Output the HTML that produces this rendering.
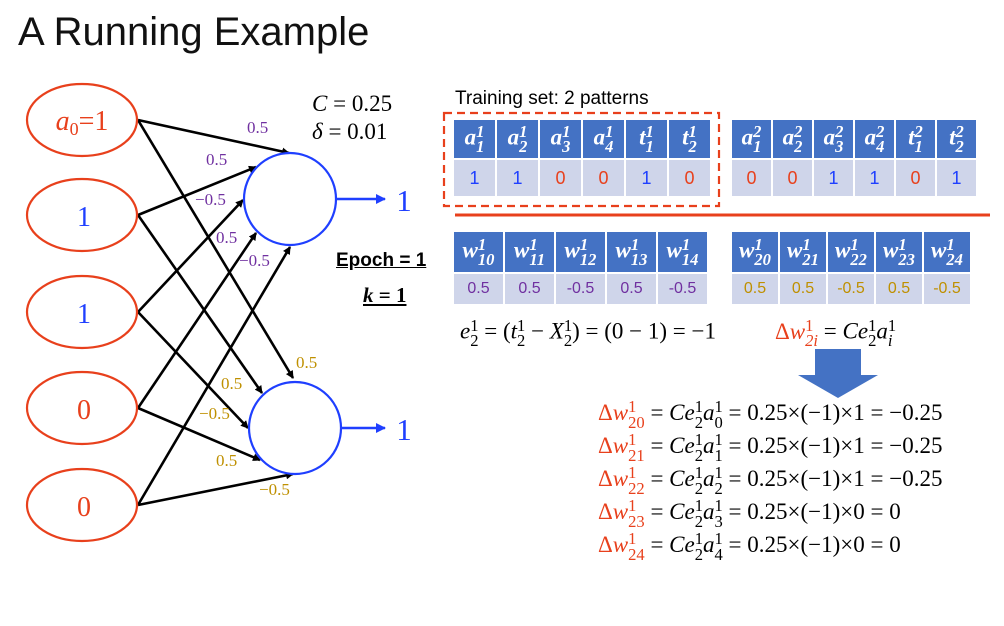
<!DOCTYPE html>
<html><head><meta charset="utf-8">
<style>
body{margin:0;background:#fff;}
#root{position:relative;width:1004px;height:626px;overflow:hidden;font-family:"Liberation Sans",sans-serif;}
.abs{position:absolute;white-space:nowrap;}
.m{font-family:"Liberation Serif",serif;}
.i{font-style:italic;}
.ss{display:inline-flex;flex-direction:column;font-size:72%;line-height:0.92;vertical-align:middle;text-align:left;}
table{border-collapse:separate;border-spacing:2px;position:absolute;}
td{padding:0;text-align:center;}
.h td{background:#4472c4;color:#fff;font-family:"Liberation Serif",serif;font-weight:bold;font-style:italic;font-size:23px;}
.v td{background:#cfd5ea;font-size:18px;}
.bl{color:#1f3fff}.rd{color:#e8401c}.pu{color:#7030a0}.go{color:#bf9000}
.eq{font-family:"Liberation Serif",serif;font-size:23px;color:#000;}
</style></head><body>
<div id="root">
<div class="abs" style="left:18px;top:10px;font-size:40px;color:#111;">A Running Example</div>

<svg class="abs" style="left:0;top:0" width="1004" height="626">
<defs><marker id="ah" markerWidth="8" markerHeight="8" refX="7" refY="4" orient="auto" markerUnits="userSpaceOnUse"><path d="M0,0L8,4L0,8z" fill="#000"/></marker>
<marker id="bh" markerWidth="10" markerHeight="10" refX="9" refY="5" orient="auto" markerUnits="userSpaceOnUse"><path d="M0,0L10,5L0,10z" fill="#1f3fff"/></marker></defs>
<g stroke="#000" stroke-width="2.6" marker-end="url(#ah)">
<line x1="138" y1="120" x2="289" y2="153"/>
<line x1="138" y1="215" x2="256" y2="167"/>
<line x1="138" y1="312" x2="243" y2="200"/>
<line x1="138" y1="408" x2="256" y2="233"/>
<line x1="138" y1="505" x2="290" y2="247"/>
<line x1="138" y1="120" x2="293" y2="378"/>
<line x1="138" y1="215" x2="262" y2="393"/>
<line x1="138" y1="312" x2="248" y2="428"/>
<line x1="138" y1="408" x2="260" y2="460"/>
<line x1="138" y1="505" x2="293" y2="474"/>
</g>
<g fill="#fff" stroke="#e8401c" stroke-width="2.2">
<ellipse cx="82" cy="120" rx="55" ry="36"/>
<ellipse cx="82" cy="215" rx="55" ry="36"/>
<ellipse cx="82" cy="312" rx="55" ry="36"/>
<ellipse cx="82" cy="408" rx="55" ry="36"/>
<ellipse cx="82" cy="505" rx="55" ry="36"/>
</g>
<circle cx="290" cy="199" r="46" fill="#fff" stroke="#1f3fff" stroke-width="2.2"/>
<circle cx="295" cy="428" r="46" fill="#fff" stroke="#1f3fff" stroke-width="2.2"/>
<line x1="336" y1="199" x2="385" y2="199" stroke="#1f3fff" stroke-width="2.6" marker-end="url(#bh)"/>
<line x1="341" y1="428" x2="385" y2="428" stroke="#1f3fff" stroke-width="2.6" marker-end="url(#bh)"/>
<g font-family="Liberation Serif,serif" font-size="28" text-anchor="middle">
<text x="82" y="130" fill="#e8401c"><tspan font-style="italic">a</tspan><tspan font-size="18" dy="5">0</tspan><tspan dy="-5">=1</tspan></text>
<text x="84" y="226" fill="#1f3fff">1</text>
<text x="84" y="323" fill="#1f3fff">1</text>
<text x="84" y="419" fill="#e8401c">0</text>
<text x="84" y="516" fill="#e8401c">0</text>
<text x="404" y="211" fill="#1f3fff" font-size="31">1</text>
<text x="404" y="440" fill="#1f3fff" font-size="31">1</text>
</g>
<g font-family="Liberation Serif,serif" font-size="17">
<text x="247" y="133" fill="#7030a0">0.5</text>
<text x="206" y="165" fill="#7030a0">0.5</text>
<text x="195" y="205" fill="#7030a0">−0.5</text>
<text x="216" y="243" fill="#7030a0">0.5</text>
<text x="239" y="266" fill="#7030a0">−0.5</text>
<text x="296" y="368" fill="#bf9000">0.5</text>
<text x="221" y="389" fill="#bf9000">0.5</text>
<text x="199" y="419" fill="#bf9000">−0.5</text>
<text x="216" y="466" fill="#bf9000">0.5</text>
<text x="259" y="495" fill="#bf9000">−0.5</text>
</g>
<rect x="444" y="113" width="275" height="93" fill="none" stroke="#e8401c" stroke-width="2.2" stroke-dasharray="8,5"/>
<line x1="455" y1="215" x2="990" y2="215" stroke="#e8401c" stroke-width="3"/>
<path d="M815,349H861V375H878L838,398L798,375H815Z" fill="#4472c4"/>
</svg>

<div class="abs eq" style="left:312px;top:90px;font-size:23px;line-height:28px;"><span class="i">C</span> = 0.25<br><span class="i">δ</span> = 0.01</div>
<div class="abs" style="left:336px;top:250px;font-size:19px;font-weight:bold;text-decoration:underline;">Epoch = 1</div>
<div class="abs m" style="left:363px;top:283px;font-size:21px;font-weight:bold;text-decoration:underline;"><span class="i">k</span> = 1</div>
<div class="abs" style="left:455px;top:88px;font-size:19px;">Training set: 2 patterns</div>

<table style="left:452px;top:118px;">
<tr class="h" style="height:38px"><td style="width:41px">a<span class="ss"><span>1</span><span>1</span></span></td><td style="width:41px">a<span class="ss"><span>1</span><span>2</span></span></td><td style="width:41px">a<span class="ss"><span>1</span><span>3</span></span></td><td style="width:41px">a<span class="ss"><span>1</span><span>4</span></span></td><td style="width:41px">t<span class="ss"><span>1</span><span>1</span></span></td><td style="width:41px">t<span class="ss"><span>1</span><span>2</span></span></td></tr>
<tr class="v" style="height:36px"><td class="bl">1</td><td class="bl">1</td><td class="rd">0</td><td class="rd">0</td><td class="bl">1</td><td class="rd">0</td></tr>
</table>
<table style="left:730px;top:118px;">
<tr class="h" style="height:38px"><td style="width:39px">a<span class="ss"><span>2</span><span>1</span></span></td><td style="width:39px">a<span class="ss"><span>2</span><span>2</span></span></td><td style="width:39px">a<span class="ss"><span>2</span><span>3</span></span></td><td style="width:39px">a<span class="ss"><span>2</span><span>4</span></span></td><td style="width:39px">t<span class="ss"><span>2</span><span>1</span></span></td><td style="width:39px">t<span class="ss"><span>2</span><span>2</span></span></td></tr>
<tr class="v" style="height:36px"><td class="rd">0</td><td class="rd">0</td><td class="bl">1</td><td class="bl">1</td><td class="rd">0</td><td class="bl">1</td></tr>
</table>
<table style="left:452px;top:230px;">
<tr class="h" style="height:40px"><td style="width:49px">w<span class="ss"><span>1</span><span>10</span></span></td><td style="width:49px">w<span class="ss"><span>1</span><span>11</span></span></td><td style="width:49px">w<span class="ss"><span>1</span><span>12</span></span></td><td style="width:49px">w<span class="ss"><span>1</span><span>13</span></span></td><td style="width:49px">w<span class="ss"><span>1</span><span>14</span></span></td></tr>
<tr class="v" style="height:30px"><td class="pu" style="font-size:16px">0.5</td><td class="pu" style="font-size:16px">0.5</td><td class="pu" style="font-size:16px">-0.5</td><td class="pu" style="font-size:16px">0.5</td><td class="pu" style="font-size:16px">-0.5</td></tr>
</table>
<table style="left:730px;top:230px;">
<tr class="h" style="height:40px"><td style="width:46px">w<span class="ss"><span>1</span><span>20</span></span></td><td style="width:46px">w<span class="ss"><span>1</span><span>21</span></span></td><td style="width:46px">w<span class="ss"><span>1</span><span>22</span></span></td><td style="width:46px">w<span class="ss"><span>1</span><span>23</span></span></td><td style="width:46px">w<span class="ss"><span>1</span><span>24</span></span></td></tr>
<tr class="v" style="height:30px"><td class="go" style="font-size:16px">0.5</td><td class="go" style="font-size:16px">0.5</td><td class="go" style="font-size:16px">-0.5</td><td class="go" style="font-size:16px">0.5</td><td class="go" style="font-size:16px">-0.5</td></tr>
</table>

<div class="abs eq" style="left:460px;top:318px;"><span class="i">e</span><span class="ss"><span>1</span><span>2</span></span> = (<span class="i">t</span><span class="ss"><span>1</span><span>2</span></span> − <span class="i">X</span><span class="ss"><span>1</span><span>2</span></span>) = (0 − 1) = −1</div>
<div class="abs eq" style="left:775px;top:318px;"><span class="rd">Δ<span class="i">w</span><span class="ss"><span>1</span><span class="i">2i</span></span></span> = <span class="i">Ce</span><span class="ss"><span>1</span><span>2</span></span><span class="i">a</span><span class="ss"><span>1</span><span class="i">i</span></span></div>

<div class="abs eq" style="left:598px;top:397px;line-height:32.5px;">
<div><span class="rd">Δ<span class="i">w</span><span class="ss"><span>1</span><span>20</span></span></span> = <span class="i">Ce</span><span class="ss"><span>1</span><span>2</span></span><span class="i">a</span><span class="ss"><span>1</span><span>0</span></span> = 0.25×(−1)×1 = −0.25</div>
<div><span class="rd">Δ<span class="i">w</span><span class="ss"><span>1</span><span>21</span></span></span> = <span class="i">Ce</span><span class="ss"><span>1</span><span>2</span></span><span class="i">a</span><span class="ss"><span>1</span><span>1</span></span> = 0.25×(−1)×1 = −0.25</div>
<div><span class="rd">Δ<span class="i">w</span><span class="ss"><span>1</span><span>22</span></span></span> = <span class="i">Ce</span><span class="ss"><span>1</span><span>2</span></span><span class="i">a</span><span class="ss"><span>1</span><span>2</span></span> = 0.25×(−1)×1 = −0.25</div>
<div><span class="rd">Δ<span class="i">w</span><span class="ss"><span>1</span><span>23</span></span></span> = <span class="i">Ce</span><span class="ss"><span>1</span><span>2</span></span><span class="i">a</span><span class="ss"><span>1</span><span>3</span></span> = 0.25×(−1)×0 = 0</div>
<div><span class="rd">Δ<span class="i">w</span><span class="ss"><span>1</span><span>24</span></span></span> = <span class="i">Ce</span><span class="ss"><span>1</span><span>2</span></span><span class="i">a</span><span class="ss"><span>1</span><span>4</span></span> = 0.25×(−1)×0 = 0</div>
</div>
</div>
</body></html>
